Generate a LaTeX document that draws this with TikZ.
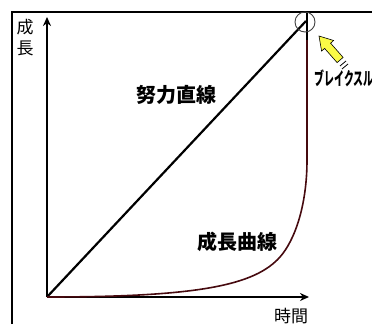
\documentclass[tikz,border=0pt]{standalone}
\usepackage{fontspec}
\setmainfont{Noto Sans CJK JP}
\usetikzlibrary{arrows.meta}
\definecolor{curvered}{RGB}{70,10,15}
\definecolor{arrowyellow}{RGB}{250,250,70}
\tikzset{
  frameline/.style={line width=2.2pt, black},
  axisline/.style={line width=1.6pt, black, -{Stealth[length=9pt,width=8pt]}},
  lbl/.style={inner sep=0pt, font=\fontsize{17}{17}\selectfont},
  bigl/.style={inner sep=0pt, font=\fontsize{20}{20}\selectfont\bfseries},
}
\begin{document}
\begin{tikzpicture}[x=1pt,y=-1pt]
\useasboundingbox (0,0) rectangle (372,324);
% frame
\draw[frameline] (12,324) -- (12,12) -- (372,12);
% axes
\coordinate (O) at (47,297);
\coordinate (ytip) at (47,17);
\coordinate (xtip) at (309,297);
\draw[axisline] (O) -- (ytip);
\draw[axisline] (O) -- (xtip);
% breakthrough point and vertical line
\coordinate (B) at (306,21);
\coordinate (vtop) at (307,12);
\coordinate (vbot) at (307,165);
\draw[line width=1.8pt] (vtop) -- (vbot);
% effort line
\draw[line width=2.2pt] (O) -- (B);
% growth curve
\draw[line width=1.6pt, curvered] (O) .. controls (200,297) and (255,285) .. (280,257)
  .. controls (295,240) and (307,205) .. (307,160) -- (307,40);
% circle
\node[draw=black!75, line width=0.9pt, circle, minimum size=20pt, inner sep=0pt] (circ) at (305,22) {};
% yellow arrow
\filldraw[fill=arrowyellow, draw=black, line width=0.6pt]
  (319,36) -- (333.6,40.5) -- (330.6,43.2) -- (343.1,57.4) -- (337.1,62.6)
  -- (324.6,48.4) -- (321.6,51.1) -- cycle;
\coordinate (m1a) at (340,66); \coordinate (m1b) at (346,61);
\coordinate (m2a) at (342,69); \coordinate (m2b) at (348,64);
\draw[line width=0.8pt] (m1a) -- (m1b);
\draw[line width=0.8pt] (m2a) -- (m2b);
% labels
\node[lbl] (seicho1) at (25,27) {成};
\node[lbl] (seicho2) at (25,48) {長};
\node[lbl] (jikan) at (291,316) {時間};
\node[bigl] (doryoku) at (176,95) {努力直線};
\node[bigl] (kyokusen) at (237,242) {成長曲線};
\node[inner sep=0pt, font=\fontsize{18}{18}\selectfont\bfseries] (bt) at (344,78) {\scalebox{0.55}[1]{ブレイクスル}};
\end{tikzpicture}
\end{document}
